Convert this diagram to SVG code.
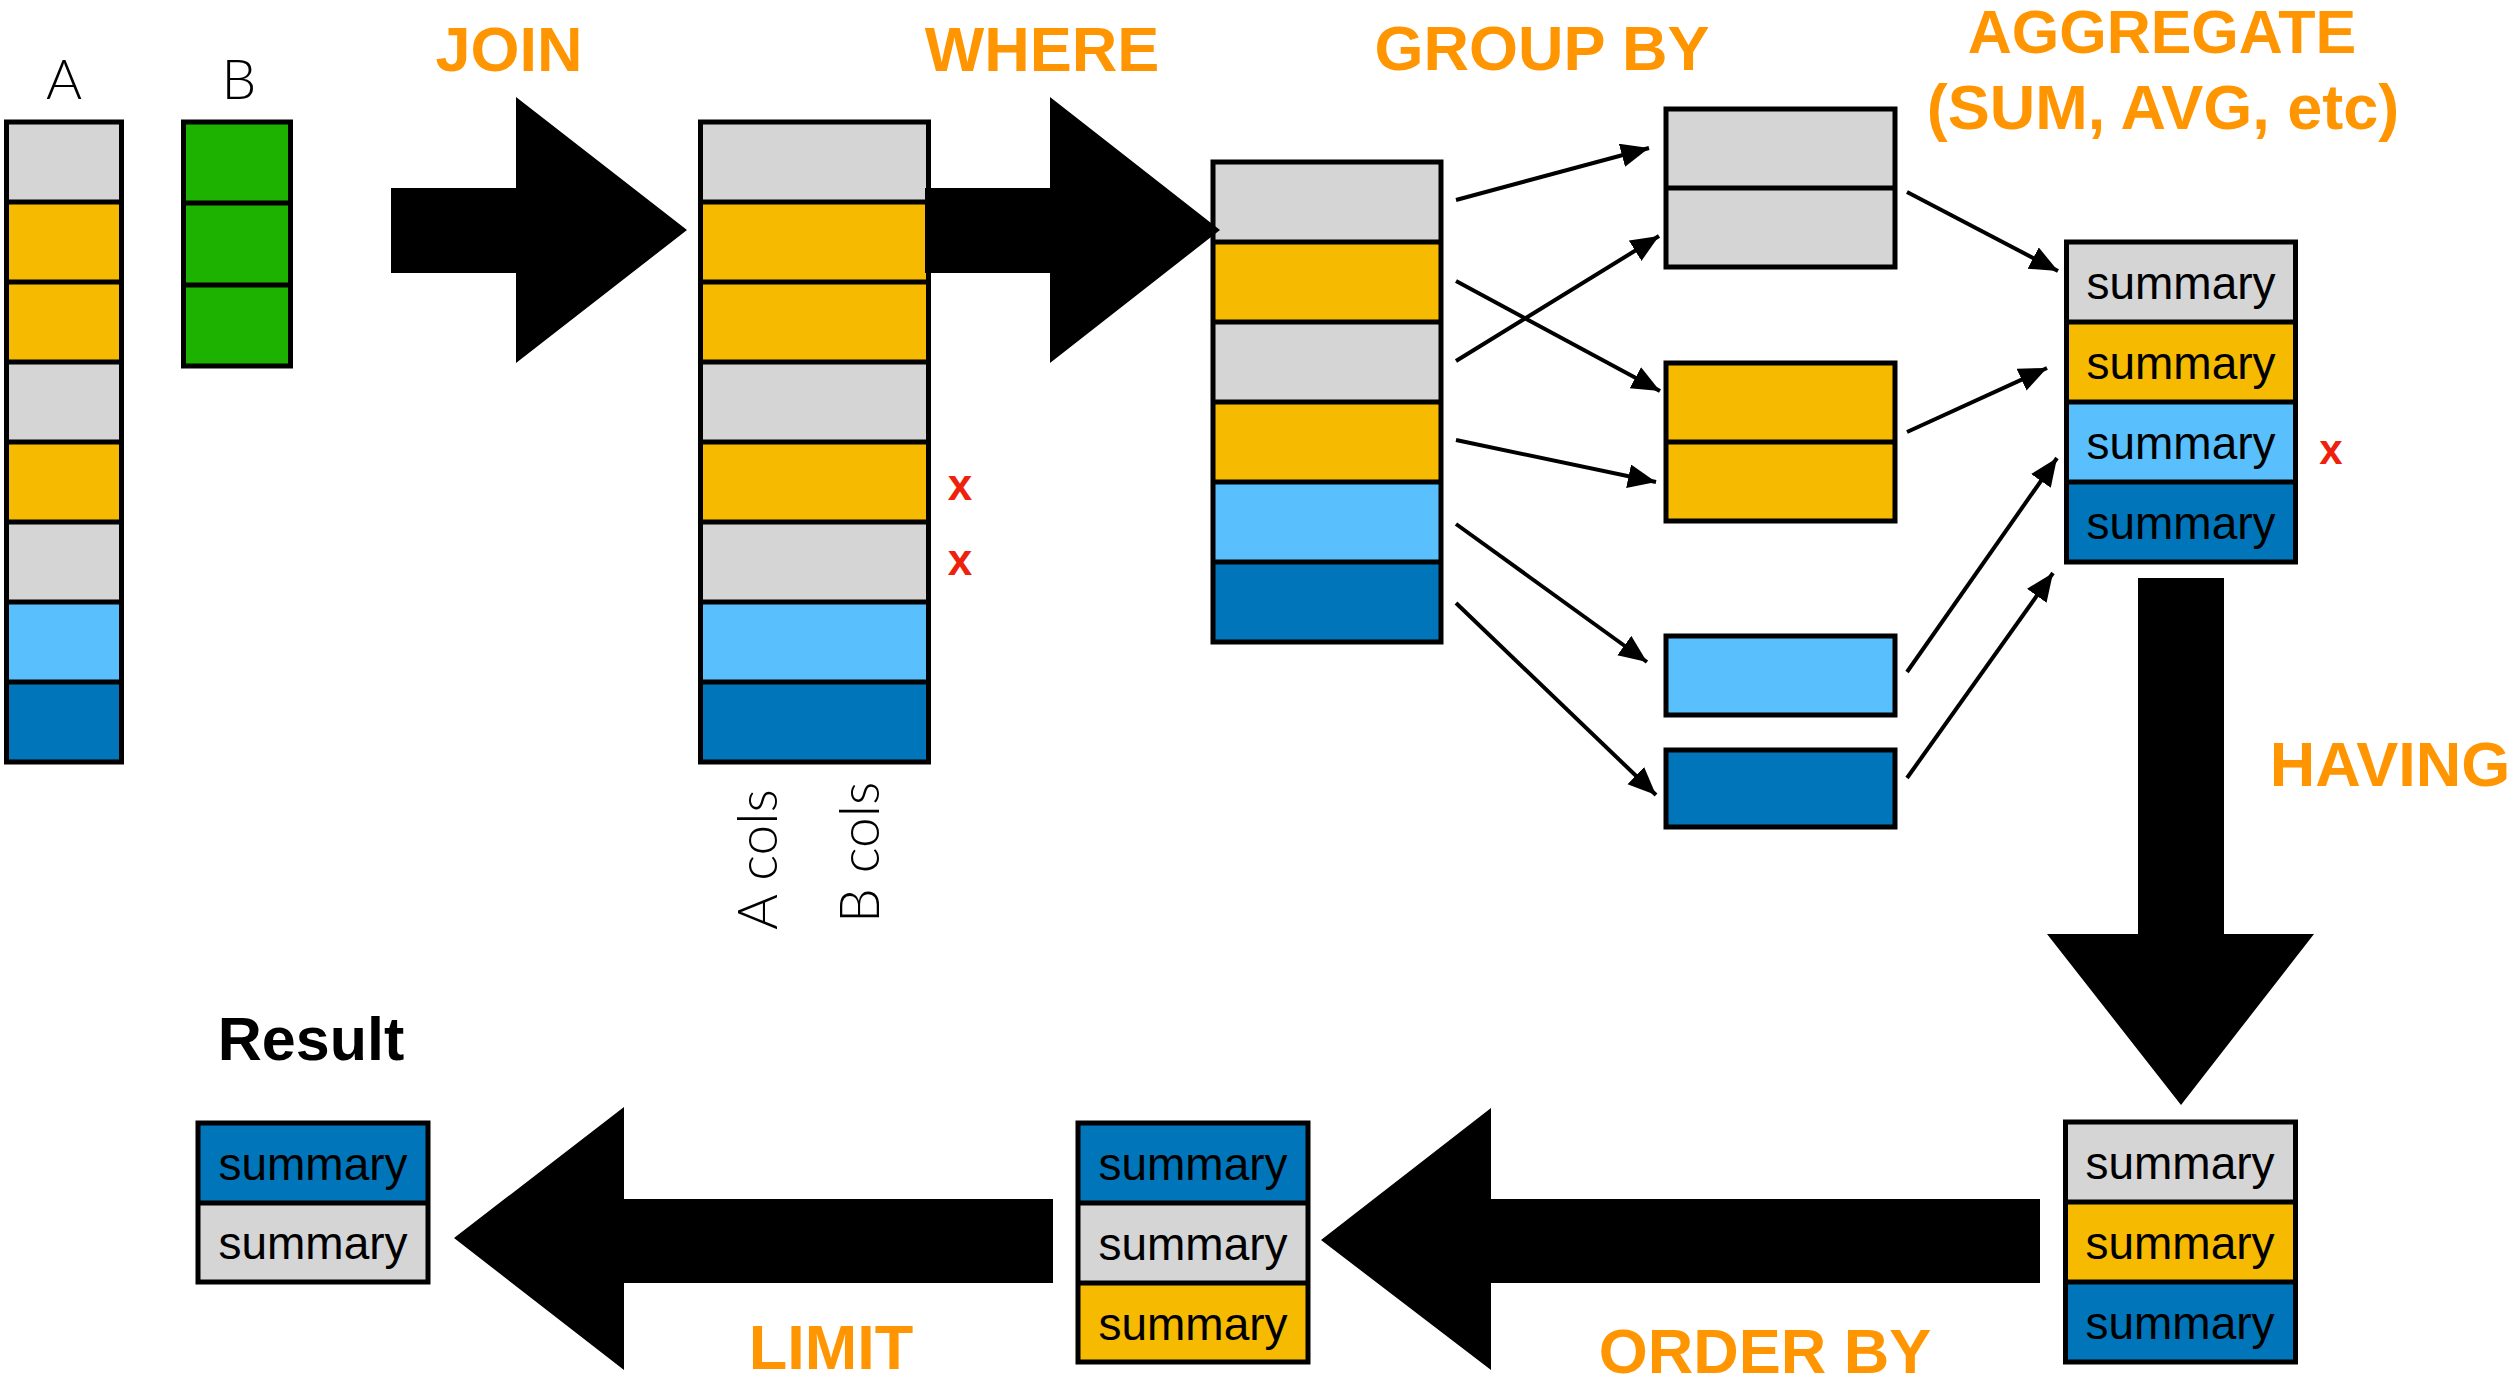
<svg xmlns="http://www.w3.org/2000/svg" width="2517" height="1387" viewBox="0 0 2517 1387">
<style>
.c{stroke:#000;stroke-width:5}
.g{fill:#D5D5D5}.o{fill:#F6BA00}.lb{fill:#59C0FD}.db{fill:#0075B9}.gr{fill:#1DB100}
.sep{stroke:#000;stroke-width:5;fill:none}
.lbl{font-family:"Liberation Sans",Arial,sans-serif;font-weight:bold;font-size:63px;fill:#FF9500;text-anchor:middle}
.sum{font-family:"Liberation Sans",Arial,sans-serif;font-size:46px;fill:#000;text-anchor:middle}
.thin{font-family:Lato,"DejaVu Sans",sans-serif;font-weight:300;font-size:55px;fill:#000}
.x{font-family:"Liberation Sans",Arial,sans-serif;font-weight:bold;font-size:44px;fill:#EE220C;text-anchor:middle}
.big{fill:#000}
.ln{stroke:#000;stroke-width:4;fill:none}
</style>
<defs>
<marker id="ah" markerUnits="userSpaceOnUse" markerWidth="30" markerHeight="26" refX="28" refY="12" orient="auto" viewBox="0 0 30 26">
<path d="M0,0 L28,12 L0,24 z" fill="#000"/>
</marker>
</defs>
<rect width="2517" height="1387" fill="#fff"/>

<g id="tableA">
<rect class="g" x="6.5" y="122" width="115" height="80"/>
<rect class="o" x="6.5" y="202" width="115" height="80"/>
<rect class="o" x="6.5" y="282" width="115" height="80"/>
<rect class="g" x="6.5" y="362" width="115" height="80"/>
<rect class="o" x="6.5" y="442" width="115" height="80"/>
<rect class="g" x="6.5" y="522" width="115" height="80"/>
<rect class="lb" x="6.5" y="602" width="115" height="80"/>
<rect class="db" x="6.5" y="682" width="115" height="80"/>
<path class="sep" d="M6.5,202H121.5M6.5,282H121.5M6.5,362H121.5M6.5,442H121.5M6.5,522H121.5M6.5,602H121.5M6.5,682H121.5"/>
<rect class="sep" x="6.5" y="122" width="115" height="640"/>
<text class="thin" x="64" y="99" text-anchor="middle">A</text>
</g>

<g id="tableB">
<rect class="gr" x="183.5" y="122" width="107" height="244"/>
<path class="sep" d="M183.5,203H290.5M183.5,285H290.5"/>
<rect class="sep" x="183.5" y="122" width="107" height="244"/>
<text class="thin" x="239" y="99" text-anchor="middle">B</text>
</g>

<g id="joined">
<rect class="g" x="700.5" y="122" width="228" height="80"/>
<rect class="o" x="700.5" y="202" width="228" height="80"/>
<rect class="o" x="700.5" y="282" width="228" height="80"/>
<rect class="g" x="700.5" y="362" width="228" height="80"/>
<rect class="o" x="700.5" y="442" width="228" height="80"/>
<rect class="g" x="700.5" y="522" width="228" height="80"/>
<rect class="lb" x="700.5" y="602" width="228" height="80"/>
<rect class="db" x="700.5" y="682" width="228" height="80"/>
<path class="sep" d="M700.5,202H928.5M700.5,282H928.5M700.5,362H928.5M700.5,442H928.5M700.5,522H928.5M700.5,602H928.5M700.5,682H928.5"/>
<rect class="sep" x="700.5" y="122" width="228" height="640"/>
<text class="x" x="960" y="500">x</text>
<text class="x" x="960" y="575">x</text>
<text class="thin" transform="translate(777,930) rotate(-90)">A cols</text>
<text class="thin" transform="translate(879,923) rotate(-90)">B cols</text>
</g>

<g id="grouped">
<rect class="g" x="1213" y="162" width="228" height="80"/>
<rect class="o" x="1213" y="242" width="228" height="80"/>
<rect class="g" x="1213" y="322" width="228" height="80"/>
<rect class="o" x="1213" y="402" width="228" height="80"/>
<rect class="lb" x="1213" y="482" width="228" height="80"/>
<rect class="db" x="1213" y="562" width="228" height="80"/>
<path class="sep" d="M1213,242H1441M1213,322H1441M1213,402H1441M1213,482H1441M1213,562H1441"/>
<rect class="sep" x="1213" y="162" width="228" height="480"/>
</g>

<g id="groupGray">
<rect class="g" x="1666" y="109" width="229" height="158"/>
<path class="sep" d="M1666,188H1895"/>
<rect class="sep" x="1666" y="109" width="229" height="158"/>
</g>
<g id="groupOrange">
<rect class="o" x="1666" y="363" width="229" height="158"/>
<path class="sep" d="M1666,442H1895"/>
<rect class="sep" x="1666" y="363" width="229" height="158"/>
</g>
<g id="groupLightBlue">
<rect class="lb c" x="1666" y="636" width="229" height="79"/>
</g>
<g id="groupDarkBlue">
<rect class="db c" x="1666" y="750" width="229" height="77"/>
</g>

<g id="aggregate">
<rect class="g" x="2066.5" y="242" width="229" height="80"/>
<rect class="o" x="2066.5" y="322" width="229" height="80"/>
<rect class="lb" x="2066.5" y="402" width="229" height="80"/>
<rect class="db" x="2066.5" y="482" width="229" height="80"/>
<path class="sep" d="M2066.5,322H2295.5M2066.5,402H2295.5M2066.5,482H2295.5"/>
<rect class="sep" x="2066.5" y="242" width="229" height="320"/>
<text class="sum" x="2181" y="299">summary</text>
<text class="sum" x="2181" y="379">summary</text>
<text class="sum" x="2181" y="459">summary</text>
<text class="sum" x="2181" y="539">summary</text>
<text class="x" x="2331" y="464" style="font-size:42px">x</text>
</g>

<g id="having">
<rect class="g" x="2065.5" y="1122" width="230" height="80"/>
<rect class="o" x="2065.5" y="1202" width="230" height="80"/>
<rect class="db" x="2065.5" y="1282" width="230" height="80"/>
<path class="sep" d="M2065.5,1202H2295.5M2065.5,1282H2295.5"/>
<rect class="sep" x="2065.5" y="1122" width="230" height="240"/>
<text class="sum" x="2180" y="1179">summary</text>
<text class="sum" x="2180" y="1259">summary</text>
<text class="sum" x="2180" y="1339">summary</text>
</g>

<g id="ordered">
<rect class="db" x="1078" y="1123" width="230" height="80"/>
<rect class="g" x="1078" y="1203" width="230" height="80"/>
<rect class="o" x="1078" y="1283" width="230" height="79"/>
<path class="sep" d="M1078,1203H1308M1078,1283H1308"/>
<rect class="sep" x="1078" y="1123" width="230" height="239"/>
<text class="sum" x="1193" y="1180">summary</text>
<text class="sum" x="1193" y="1260">summary</text>
<text class="sum" x="1193" y="1340">summary</text>
</g>

<g id="result">
<rect class="db" x="198" y="1123" width="230" height="80"/>
<rect class="g" x="198" y="1203" width="230" height="79"/>
<path class="sep" d="M198,1203H428"/>
<rect class="sep" x="198" y="1123" width="230" height="159"/>
<text class="sum" x="313" y="1180">summary</text>
<text class="sum" x="313" y="1259">summary</text>
<text x="311" y="1060" style="font-family:'Liberation Sans',Arial,sans-serif;font-weight:bold;font-size:61px;fill:#000;text-anchor:middle">Result</text>
</g>

<g id="connectors">
<polygon class="big" points="391,188 516,188 516,97 687,230 516,363 516,273 391,273"/>
<polygon class="big" points="925,188 1050,188 1050,97 1220,230 1050,363 1050,273 925,273"/>
<polygon class="big" points="2138,578 2224,578 2224,934 2314,934 2181,1105 2047,934 2138,934"/>
<polygon class="big" points="2040,1199 2040,1283 1491,1283 1491,1370 1321,1240 1491,1108 1491,1199"/>
<polygon class="big" points="1053,1199 1053,1283 624,1283 624,1370 454,1238 624,1107 624,1199"/>
<path class="ln" marker-end="url(#ah)" d="M1456,200L1649,148"/>
<path class="ln" marker-end="url(#ah)" d="M1456,281L1660,391"/>
<path class="ln" marker-end="url(#ah)" d="M1456,361L1659,236"/>
<path class="ln" marker-end="url(#ah)" d="M1456,440L1656,482"/>
<path class="ln" marker-end="url(#ah)" d="M1456,524L1647,662"/>
<path class="ln" marker-end="url(#ah)" d="M1456,603L1656,795"/>
<path class="ln" marker-end="url(#ah)" d="M1907,192L2058,271"/>
<path class="ln" marker-end="url(#ah)" d="M1907,432L2047,368"/>
<path class="ln" marker-end="url(#ah)" d="M1907,672L2057,458"/>
<path class="ln" marker-end="url(#ah)" d="M1907,778L2053,573"/>
</g>

<g id="labels">
<text class="lbl" x="509" y="71">JOIN</text>
<text class="lbl" x="1042" y="71">WHERE</text>
<text class="lbl" x="1542" y="70">GROUP BY</text>
<text class="lbl" x="2162" y="53" style="font-size:61px">AGGREGATE</text>
<text class="lbl" x="2163" y="129">(SUM, AVG, etc)</text>
<text class="lbl" x="2390" y="786">HAVING</text>
<text class="lbl" x="1765" y="1373">ORDER BY</text>
<text class="lbl" x="831" y="1369">LIMIT</text>
</g>
</svg>
